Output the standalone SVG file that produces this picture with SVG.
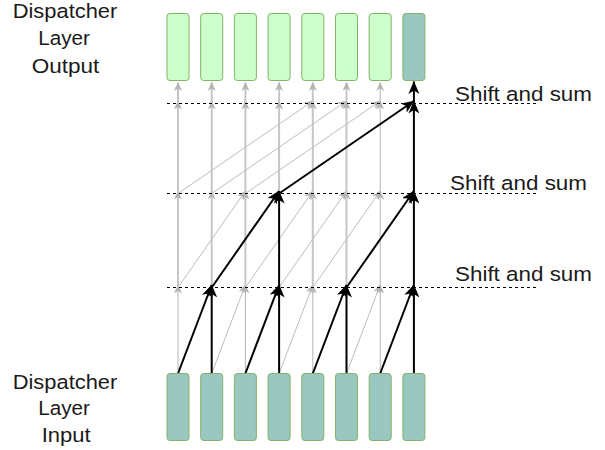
<svg xmlns="http://www.w3.org/2000/svg" width="605" height="450" viewBox="0 0 605 450">
<style>
.lbl{font-family:"Liberation Sans",Arial,sans-serif;font-size:20.5px;fill:#1a1a1a}
.out{fill:#ccffcc;stroke:#82b366;stroke-width:1}
.inp{fill:#9ac7bf;stroke:#82b366;stroke-width:1}
.g{stroke:#c6c6c6;stroke-width:2;fill:none;marker-end:url(#ga)}
.gt{stroke:#b4b4b4;stroke-width:1;fill:none;marker-end:url(#ga)}
.gd{stroke:#bdbdbd;stroke-width:1;fill:none;marker-end:url(#ga)}
.b{stroke:#000;stroke-width:2;fill:none;marker-end:url(#ba)}
.dash{stroke:#000;stroke-width:1;stroke-dasharray:3 3}
</style>
<defs>
<marker id="ba" markerUnits="userSpaceOnUse" markerWidth="13" markerHeight="11" viewBox="0 0 13 11" refX="12.5" refY="5.5" orient="auto"><path d="M0,0 L13,5.5 L0,11 L3.5,5.5 Z" fill="#000"/></marker>
<marker id="ga" markerUnits="userSpaceOnUse" markerWidth="9" markerHeight="8" viewBox="0 0 9 8" refX="8.5" refY="4" orient="auto"><path d="M0,0 L9,4 L0,8 L2.5,4 Z" fill="#b4b4b4"/></marker>
</defs>
<g id="labels">
<text class="lbl" x="12.7" y="18.4" textLength="104.6" lengthAdjust="spacingAndGlyphs">Dispatcher</text>
<text class="lbl" x="38.3" y="45.3" textLength="51.7" lengthAdjust="spacingAndGlyphs">Layer</text>
<text class="lbl" x="31.7" y="72.6" textLength="67.6" lengthAdjust="spacingAndGlyphs">Output</text>
<text class="lbl" x="12.7" y="388.5" textLength="104.6" lengthAdjust="spacingAndGlyphs">Dispatcher</text>
<text class="lbl" x="38.3" y="415.2" textLength="51.7" lengthAdjust="spacingAndGlyphs">Layer</text>
<text class="lbl" x="41.7" y="441.8" textLength="49" lengthAdjust="spacingAndGlyphs">Input</text>
<text class="lbl" x="455" y="100.5" textLength="137" lengthAdjust="spacingAndGlyphs">Shift and sum</text>
<text class="lbl" x="450" y="189.5" textLength="137" lengthAdjust="spacingAndGlyphs">Shift and sum</text>
<text class="lbl" x="455" y="280.7" textLength="137" lengthAdjust="spacingAndGlyphs">Shift and sum</text>
</g>
<g id="connectors">
<!-- stage 1 gray -->
<line class="gt" x1="178" y1="373.5" x2="178" y2="285"/>
<line class="gt" x1="245.4" y1="373.5" x2="245.4" y2="285"/>
<line class="gt" x1="312.8" y1="373.5" x2="312.8" y2="285"/>
<line class="gt" x1="380.2" y1="373.5" x2="380.2" y2="285"/>
<line class="gd" x1="211.7" y1="373.5" x2="245.4" y2="285"/>
<line class="gd" x1="279.1" y1="373.5" x2="312.8" y2="285"/>
<line class="gd" x1="346.5" y1="373.5" x2="380.2" y2="285"/>
<!-- stage 2 gray -->
<line class="g" x1="178" y1="287.5" x2="178" y2="191"/>
<line class="g" x1="211.7" y1="287.5" x2="211.7" y2="191"/>
<line class="g" x1="245.4" y1="287.5" x2="245.4" y2="191"/>
<line class="g" x1="312.8" y1="287.5" x2="312.8" y2="191"/>
<line class="g" x1="346.5" y1="287.5" x2="346.5" y2="191"/>
<line class="gt" x1="380.2" y1="287.5" x2="380.2" y2="191"/>
<line class="gd" x1="178" y1="287.5" x2="245.4" y2="191"/>
<line class="gd" x1="245.4" y1="287.5" x2="312.8" y2="191"/>
<line class="gd" x1="279.1" y1="287.5" x2="346.5" y2="191"/>
<line class="gd" x1="312.8" y1="287.5" x2="380.2" y2="191"/>
<!-- stage 3 gray -->
<line class="g" x1="178" y1="193.5" x2="178" y2="101"/>
<line class="g" x1="211.7" y1="193.5" x2="211.7" y2="101"/>
<line class="g" x1="245.4" y1="193.5" x2="245.4" y2="101"/>
<line class="g" x1="279.1" y1="193.5" x2="279.1" y2="101"/>
<line class="g" x1="312.8" y1="193.5" x2="312.8" y2="101"/>
<line class="g" x1="346.5" y1="193.5" x2="346.5" y2="101"/>
<line class="gt" x1="380.2" y1="193.5" x2="380.2" y2="101"/>
<line class="gd" x1="178" y1="193.5" x2="312.8" y2="101"/>
<line class="gd" x1="211.7" y1="193.5" x2="346.5" y2="101"/>
<line class="gd" x1="245.4" y1="193.5" x2="380.2" y2="101"/>
<!-- stage 4 gray -->
<line class="g" x1="178" y1="103.5" x2="178" y2="82.5"/>
<line class="g" x1="211.7" y1="103.5" x2="211.7" y2="82.5"/>
<line class="g" x1="245.4" y1="103.5" x2="245.4" y2="82.5"/>
<line class="g" x1="279.1" y1="103.5" x2="279.1" y2="82.5"/>
<line class="g" x1="312.8" y1="103.5" x2="312.8" y2="82.5"/>
<line class="g" x1="346.5" y1="103.5" x2="346.5" y2="82.5"/>
<line class="gt" x1="380.2" y1="103.5" x2="380.2" y2="82.5"/>
<!-- dashed stage lines -->
<line class="dash" x1="167" y1="103.5" x2="536" y2="103.5"/>
<line class="dash" x1="167" y1="193.5" x2="536" y2="193.5"/>
<line class="dash" x1="167" y1="287.5" x2="536" y2="287.5"/>
<!-- stage 1 black -->
<line class="b" x1="211.7" y1="373.5" x2="211.7" y2="285"/>
<line class="b" x1="279.1" y1="373.5" x2="279.1" y2="285"/>
<line class="b" x1="346.5" y1="373.5" x2="346.5" y2="285"/>
<line class="b" x1="413.9" y1="373.5" x2="413.9" y2="285"/>
<line class="b" x1="178" y1="373.5" x2="211.7" y2="285"/>
<line class="b" x1="245.4" y1="373.5" x2="279.1" y2="285"/>
<line class="b" x1="312.8" y1="373.5" x2="346.5" y2="285"/>
<line class="b" x1="380.2" y1="373.5" x2="413.9" y2="285"/>
<!-- stage 2 black -->
<line class="b" x1="279.1" y1="287.5" x2="279.1" y2="191"/>
<line class="b" x1="413.9" y1="287.5" x2="413.9" y2="191"/>
<line class="b" x1="211.7" y1="287.5" x2="279.1" y2="191"/>
<line class="b" x1="346.5" y1="287.5" x2="413.9" y2="191"/>
<!-- stage 3 black -->
<line class="b" x1="413.9" y1="193.5" x2="413.9" y2="101"/>
<line class="b" x1="279.1" y1="193.5" x2="413.9" y2="101"/>
<!-- stage 4 black -->
<line class="b" x1="413.9" y1="103.5" x2="413.9" y2="81.5"/>
</g>
<g id="out0"><rect class="out" x="167" y="13.5" width="22" height="67" rx="3"/></g>
<g id="out1"><rect class="out" x="200.7" y="13.5" width="22" height="67" rx="3"/></g>
<g id="out2"><rect class="out" x="234.4" y="13.5" width="22" height="67" rx="3"/></g>
<g id="out3"><rect class="out" x="268.1" y="13.5" width="22" height="67" rx="3"/></g>
<g id="out4"><rect class="out" x="301.8" y="13.5" width="22" height="67" rx="3"/></g>
<g id="out5"><rect class="out" x="335.5" y="13.5" width="22" height="67" rx="3"/></g>
<g id="out6"><rect class="out" x="369.2" y="13.5" width="22" height="67" rx="3"/></g>
<g id="out7"><rect class="inp" x="402.9" y="13.5" width="22" height="67" rx="3"/></g>
<g id="in0"><rect class="inp" x="167" y="373.5" width="22" height="67" rx="3"/></g>
<g id="in1"><rect class="inp" x="200.7" y="373.5" width="22" height="67" rx="3"/></g>
<g id="in2"><rect class="inp" x="234.4" y="373.5" width="22" height="67" rx="3"/></g>
<g id="in3"><rect class="inp" x="268.1" y="373.5" width="22" height="67" rx="3"/></g>
<g id="in4"><rect class="inp" x="301.8" y="373.5" width="22" height="67" rx="3"/></g>
<g id="in5"><rect class="inp" x="335.5" y="373.5" width="22" height="67" rx="3"/></g>
<g id="in6"><rect class="inp" x="369.2" y="373.5" width="22" height="67" rx="3"/></g>
<g id="in7"><rect class="inp" x="402.9" y="373.5" width="22" height="67" rx="3"/></g>
</svg>
